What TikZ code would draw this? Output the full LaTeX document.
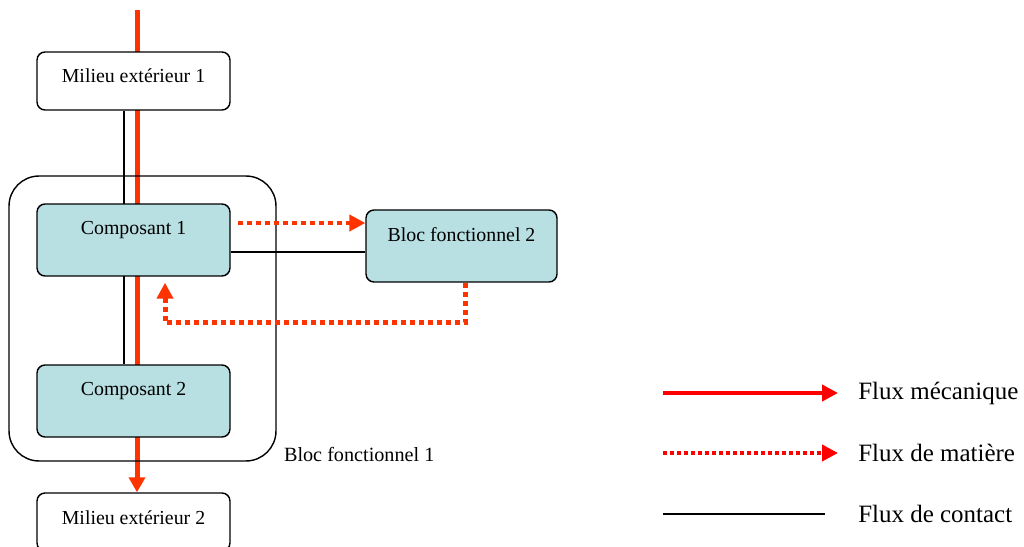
\documentclass[tikz,border=0pt]{standalone}
\usepackage{fontspec}
\setmainfont{Liberation Serif}
\usepackage{tikz}
\usetikzlibrary{arrows.meta,positioning,calc,backgrounds}
\definecolor{fxRed}{HTML}{FF3300}
\definecolor{fxLegRed}{HTML}{FF0000}
\definecolor{fxCyan}{HTML}{B8DFE2}
\tikzset{
  mech/.style={-{Triangle[length=3mm,width=3.2mm]}, line width=1mm, draw=fxRed},
  matter/.style={-{Triangle[length=3.2mm,width=3.2mm]}, line width=1mm, draw=fxRed, dash pattern=on 1mm off 0.8mm},
  contact/.style={line width=0.6pt, draw=black},
  mechleg/.style={-{Triangle[length=3.2mm,width=3.2mm]}, line width=0.8mm, draw=fxLegRed},
  matterleg/.style={-{Triangle[length=3.2mm,width=3.2mm]}, line width=0.8mm, draw=fxLegRed, dash pattern=on 0.8mm off 0.6mm},
  whitebox/.style={rounded corners=1.6mm, draw=black, fill=white, line width=0.8pt, minimum width=3.86cm, minimum height=1.16cm, inner sep=0pt, text height=0.7em, font=\fontsize{11.3}{13}\selectfont},
  compbox/.style={rounded corners=1.6mm, draw=black, fill=fxCyan, line width=0.8pt, minimum width=3.86cm, minimum height=1.44cm, inner sep=0pt, text height=0.7em, text depth=0.48cm, font=\fontsize{11.3}{13}\selectfont},
  blocbox/.style={rounded corners=6mm, draw=black, line width=0.8pt, minimum width=5.34cm, minimum height=5.7cm},
  legtxt/.style={anchor=west, inner sep=0pt, font=\fontsize{14.2}{16}\selectfont}
}
\begin{document}
\begin{tikzpicture}[x=0.02cm,y=-0.02cm]
  \useasboundingbox (0,0) rectangle (1024,547);
  \coordinate (top) at (137,10);
  \coordinate (cx) at (124,0);
  % blocs et composants
  \node[blocbox] (bloc1) at (142.5,318.5) {};
  \node[anchor=west, inner sep=0pt, font=\fontsize{11.5}{13}\selectfont] (b1lbl) at ($(bloc1.south east)+(7,-7)$) {Bloc fonctionnel 1};
  \node[whitebox, text depth=0.2cm] (me1) at (133.5,81) {Milieu extérieur 1};
  \node[compbox] (comp1) at (133.5,240) {Composant 1};
  \node[compbox] (comp2) at (133.5,401) {Composant 2};
  \node[whitebox, text depth=0.16cm] (me2) at (133.5,522) {Milieu extérieur 2};
  \node[compbox, minimum width=3.82cm, text depth=0.44cm] (bloc2) at (461.5,246) {Bloc fonctionnel 2};
  \begin{scope}[on background layer]
    \draw[mech] (top) -- (top |- me2.north);
    \draw[contact] (me1.south -| cx) -- (comp2.north -| cx);
  \end{scope}
  \draw[matter] ([shift={(7,-17)}]comp1.east) coordinate (m1) -- (m1 -| bloc2.west);
  \draw[contact] ([shift={(0,12)}]comp1.east) coordinate (c1) -- (c1 -| bloc2.west);
  \draw[matter] ([shift={(3.5,0)}]bloc2.south) -- ++(0,40) -| ([shift={(31.5,6)}]comp1.south);
  % legende
  \node[legtxt] (t1) at (858,393) {Flux mécanique};
  \node[legtxt] (t2) at (858,453) {Flux de matière};
  \node[legtxt] (t3) at (858,514) {Flux de contact};
  \coordinate (lg1) at (663,393);
  \coordinate (lg2) at (663,453);
  \coordinate (lg3) at (663,514);
  \draw[mechleg] (lg1) -- ([xshift=-0.4cm]t1.west |- lg1);
  \draw[matterleg] (lg2) -- ([xshift=-0.4cm]t2.west |- lg2);
  \draw[contact] (lg3) -- ([xshift=-0.66cm]t3.west |- lg3);
\end{tikzpicture}
\end{document}
